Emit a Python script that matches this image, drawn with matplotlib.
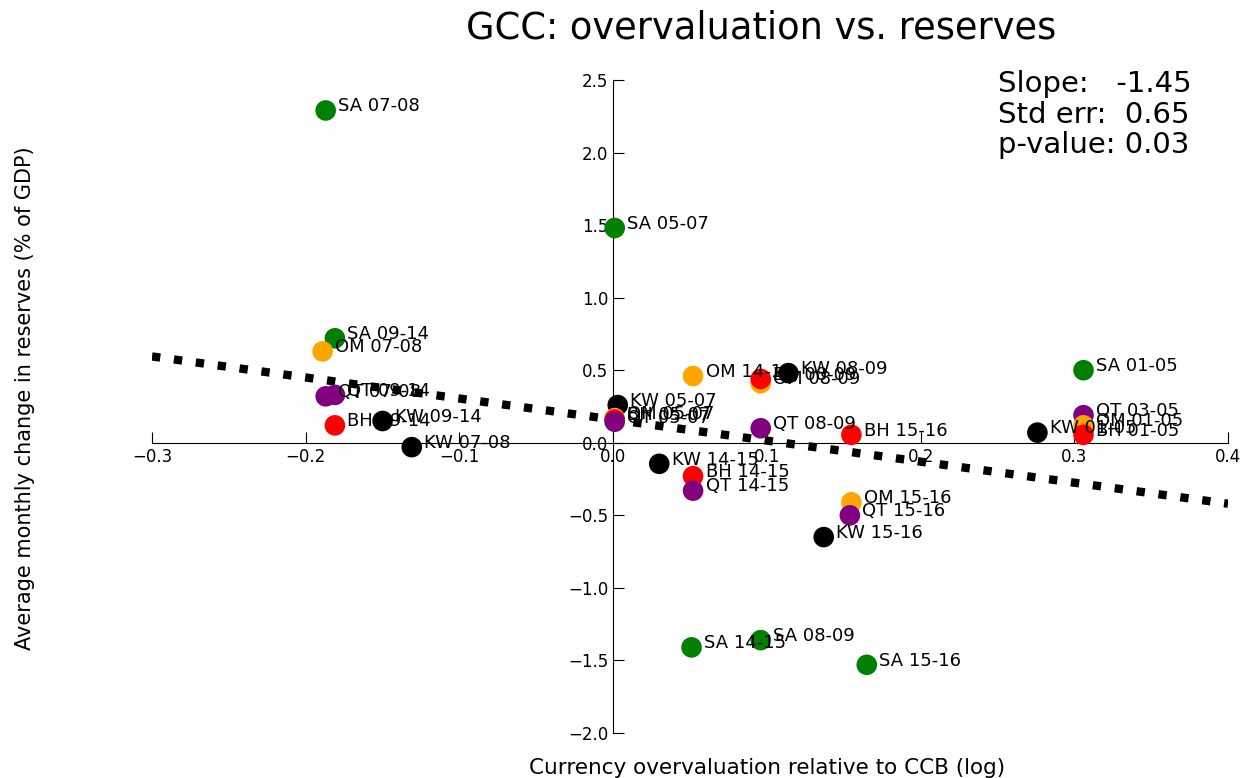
import numpy as np
import matplotlib.pyplot as plt

plt.rcParams['font.family'] = ['DejaVu Sans']

# punkte: label, x (overvaluation), y (reserves change), land
labels = ['SA 07-08', 'SA 05-07', 'SA 09-14', 'OM 07-08', 'QT 07-08', 'QT 09-14',
          'BH 09-14', 'KW 09-14', 'KW 07-08', 'KW 05-07', 'OM 05-07', 'BH 05-07',
          'QT 05-07', 'OM 14-15', 'OM 08-09', 'BH 08-09', 'KW 08-09', 'QT 08-09',
          'BH 15-16', 'KW 14-15', 'BH 14-15', 'QT 14-15', 'OM 15-16', 'QT 15-16',
          'KW 15-16', 'SA 14-15', 'SA 08-09', 'SA 15-16', 'SA 01-05', 'QT 03-05',
          'OM 01-05', 'BH 01-05', 'KW 01-05']
xs = [-0.187, 0.001, -0.181, -0.189, -0.187, -0.181,
      -0.181, -0.150, -0.131, 0.003, 0.001, 0.001,
      0.001, 0.052, 0.096, 0.096, 0.114, 0.096,
      0.155, 0.030, 0.052, 0.052, 0.155, 0.154,
      0.137, 0.051, 0.096, 0.165, 0.306, 0.306,
      0.306, 0.306, 0.276]
ys = [2.29, 1.48, 0.72, 0.63, 0.32, 0.33,
      0.12, 0.15, -0.03, 0.26, 0.17, 0.16,
      0.145, 0.46, 0.41, 0.44, 0.48, 0.10,
      0.055, -0.145, -0.23, -0.33, -0.41, -0.50,
      -0.65, -1.41, -1.36, -1.53, 0.50, 0.19,
      0.12, 0.055, 0.07]
farben = {'SA': 'green', 'OM': 'orange', 'QT': 'purple', 'BH': 'red', 'KW': 'black'}

slope = -1.45
intercept = 0.16
std_err = 0.65
p_value = 0.03

fig = plt.figure(figsize=(12.48, 7.78), dpi=100)
ax = fig.add_axes([152 / 1248, 45 / 778, 1076 / 1248, 653 / 778])

for lab, x, y in zip(labels, xs, ys):
    ax.scatter(x, y, s=220, color=farben[lab[:2]], edgecolors='none', zorder=3)
    ax.annotate(lab, (x, y), xytext=(9, 3), textcoords='offset points',
                fontsize=13, va='center', zorder=4)

# regressionsgerade
xl = np.array([-0.3, 0.4])
ax.plot(xl, intercept + slope * xl, 'k:', lw=6, zorder=2)

ax.set_xlim(-0.3, 0.4)
ax.set_ylim(-2.0, 2.5)
ax.set_xticks(np.arange(-0.3, 0.41, 0.1))
ax.set_yticks(np.arange(-2.0, 2.51, 0.5))
ax.spines['left'].set_position(('data', 0))
ax.spines['bottom'].set_position(('data', 0))
ax.spines['top'].set_visible(False)
ax.spines['right'].set_visible(False)
ax.tick_params(direction='in', length=8, labelsize=12)
ax.patch.set_visible(False)

fig.text(761 / 1248, 1 - 28 / 778, 'GCC: overvaluation vs. reserves', fontsize=26.5,
         ha='center', va='center')
fig.text(767 / 1248, 1 - 768 / 778, 'Currency overvaluation relative to CCB (log)',
         fontsize=15.5, ha='center', va='center')
fig.text(25 / 1248, 1 - 398 / 778, 'Average monthly change in reserves (% of GDP)',
         fontsize=15, ha='center', va='center', rotation=90)
fig.text(998 / 1248, 1 - 70 / 778,
         'Slope:   %.2f\nStd err:  %.2f\np-value: %.2f' % (slope, std_err, p_value),
         fontsize=21, ha='left', va='top', linespacing=1.12)

fig.savefig('out.png')
